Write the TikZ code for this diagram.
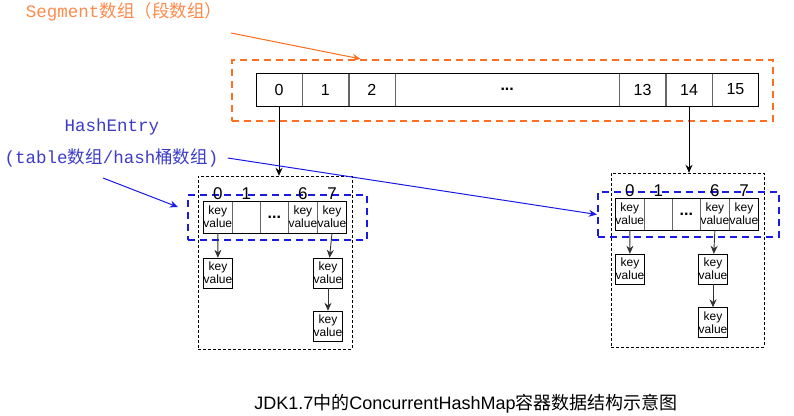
\documentclass[tikz,border=0pt]{standalone}
\usepackage{fontspec}
\setmainfont{Liberation Sans}
\setmonofont{Liberation Mono}
\newfontfamily\cjk{Noto Sans CJK SC}
\usepackage{tikz}
\usetikzlibrary{positioning, arrows.meta}

\definecolor{segorange}{HTML}{FF6F1F}
\definecolor{txtorange}{HTML}{FF8A4C}
\definecolor{hashblue}{HTML}{1A1AE6}
\definecolor{txtblue}{HTML}{3C3CC8}

\begin{document}
\begin{tikzpicture}[
                x=1pt, y=-1pt,
                >={Stealth[length=8pt, width=7pt]},
                segcell/.style={draw=black!60, minimum width=46pt, minimum height=33pt, inner sep=0pt, font=\fontsize{16}{16}\selectfont}, % Segment cells
                entry/.style={draw=black!60, minimum width=27.6pt, minimum height=32pt, inner sep=0pt, align=center, font=\fontsize{12}{13}\selectfont}, % HashEntry cells
                chain/.style={entry, draw=black, minimum width=28pt, minimum height=30pt}, % linked entries
                idx/.style={inner sep=1pt, font=\fontsize{17}{17}\selectfont}, % index labels
                segbox/.style={draw=segorange, line width=2.2pt, dash pattern=on 7pt off 5pt}, % orange frame
                bluebox/.style={draw=hashblue, line width=2.2pt, dash pattern=on 7pt off 5pt}, % blue frame
                tablebox/.style={draw, dash pattern=on 3pt off 2pt}, % thin frame
                link/.style={draw, ->, black!80, line width=0.9pt}
                ]
                \useasboundingbox (0,0) rectangle (794,415);

                % Segment array
                \node[segbox, minimum width=541pt, minimum height=61pt] (segframe) at (502.5,90.5) {};
                \node[segcell] (s0) at (279,89.5) {0};
                \node[segcell, right=0pt of s0] (s1) {1};
                \node[segcell, right=0pt of s1] (s2) {2};
                \node[segcell, right=0pt of s2, minimum width=224pt] (sdots) {\textbf{...}};
                \node[segcell, right=0pt of sdots] (s13) {13};
                \node[segcell, right=0pt of s13] (s14) {14};
                \node[segcell, right=0pt of s14] (s15) {15};
                \draw (s0.north west) rectangle (s15.south east);

                \node[text=txtorange, font=\fontsize{17.5}{18}\selectfont\ttfamily] (segtxt) at (124,12) {Segment{\cjk 数组（段数组）}};
                \coordinate (segtail) at (231,33);
                \draw[segorange, ->, line width=1pt] (segtail) -- ([xshift=-142pt]segframe.north);

                % left HashEntry table
                \node[tablebox, minimum width=154pt, minimum height=173pt] (lframe) at (275,262.5) {};
                \node[bluebox, minimum width=179pt, minimum height=45pt] (lblue) at (277.5,217.5) {};
                \node[entry] (l0) at (217.8,217) {key\\value};
                \node[entry, right=0pt of l0] (l1) {};
                \node[entry, right=0pt of l1] (l2) {\fontsize{16}{16}\selectfont\textbf{...}};
                \node[entry, right=0pt of l2] (l6) {key\\value};
                \node[entry, right=0pt of l6] (l7) {key\\value};
                \draw (l0.north west) rectangle (l7.south east);
                \node[idx, above=0pt of l0] {0};
                \node[idx, above=0pt of l1] {1};
                \node[idx, above=0pt of l6] {6};
                \node[idx, above=0pt of l7] {7};
                \node[chain] (la) at (218,273) {key\\value};
                \node[chain] (lb) at (328,273) {key\\value};
                \node[chain] (lc) at (328,326) {key\\value};
                \draw[link] (l0.south) -- (la);
                \draw[link] (l7.south) -- (lb);
                \draw[link] (lb) -- (lc);

                % right HashEntry table
                \node[tablebox, minimum width=153pt, minimum height=174pt] (rframe) at (687.5,260) {};
                \node[bluebox, minimum width=181pt, minimum height=45pt] (rblue) at (688.5,214.5) {};
                \node[entry] (r0) at (629.8,214) {key\\value};
                \node[entry, right=0pt of r0] (r1) {};
                \node[entry, right=0pt of r1] (r2) {\fontsize{16}{16}\selectfont\textbf{...}};
                \node[entry, right=0pt of r2] (r6) {key\\value};
                \node[entry, right=0pt of r6] (r7) {key\\value};
                \draw (r0.north west) rectangle (r7.south east);
                \node[idx, above=0pt of r0] {0};
                \node[idx, above=0pt of r1] {1};
                \node[idx, above=0pt of r6] {6};
                \node[idx, above=0pt of r7] {7};
                \node[chain] (ra) at (630,269) {key\\value};
                \node[chain] (rb) at (713,269) {key\\value};
                \node[chain] (rc) at (713,322.5) {key\\value};
                \draw[link] (r0.south) -- (ra);
                \draw[link] (r6.south) -- (rb);
                \draw[link] (rb) -- (rc);

                % segments point to their tables
                \draw[->, line width=0.9pt] (s0.south) -- (s0.south |- lframe.north);
                \draw[->, line width=0.9pt] (s14.south) -- (s14.south |- rframe.north);

                % HashEntry labels
                \node[text=txtblue, font=\fontsize{17.5}{18}\selectfont\ttfamily] (hashtxt) at (112,127) {HashEntry};
                \node[text=txtblue, font=\fontsize{17.5}{18}\selectfont\ttfamily] (tbltxt) at (111.5,158) {(table{\cjk 数组}/hash{\cjk 桶数组})};
                \coordinate (tbltail) at (103,178);
                \draw[hashblue, ->, line width=1pt] ([xshift=6pt]tbltxt.east) -- (rblue.west);
                \draw[hashblue, ->, line width=1pt] (tbltail) -- ([shift={(-9,-10.5)}]lblue.west);

                % caption
                \node[font=\fontsize{18}{20}\selectfont] (caption) at (466,404) {JDK1.7{\cjk 中的}ConcurrentHashMap{\cjk 容器数据结构示意图}};
            \end{tikzpicture}
\end{document}
